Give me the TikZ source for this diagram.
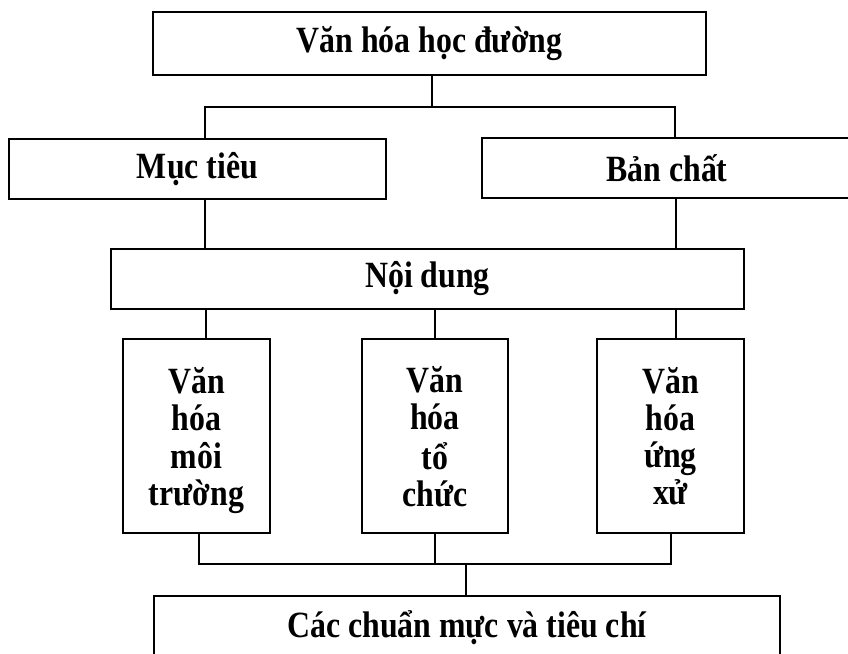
\documentclass[tikz,border=0pt]{standalone}
\usepackage{fontspec}
\setmainfont{Liberation Serif}
\newfontfamily\tnrb[FakeStretch=0.86]{Liberation Serif}
\begin{document}
\begin{tikzpicture}[x=1pt,y=-1pt,
  box/.style={draw=black,line width=1.6pt,rectangle,inner sep=0pt,font=\tnrb\fontsize{37}{37}\selectfont\bfseries,align=center},
  txt/.style={inner sep=0pt,font=\tnrb\fontsize{37}{37}\selectfont\bfseries,align=center},
  conn/.style={draw=black,line width=1.6pt}]
\useasboundingbox (0,0) rectangle (848,653);
\clip (0,0) rectangle (848,653);
\fill[white] (0,0) rectangle (848,653);
\node[box,minimum width=553pt,minimum height=63pt] (top) at (429.5,43.5) {Văn hóa học đường};
\node[box,minimum width=377pt,minimum height=60pt] (muc) at (197.5,169) {Mục tiêu};
\node[box,minimum width=370pt,minimum height=60pt] (ban) at (667,168) {Bản chất};
\node[box,minimum width=633pt,minimum height=60pt] (noi) at (427.5,279) {Nội dung};
\node[box,minimum width=147pt,minimum height=194pt] (b1) at (196.5,436) {};
\node[box,minimum width=146pt,minimum height=194pt] (b2) at (435,436) {};
\node[box,minimum width=147pt,minimum height=194pt] (b3) at (670.5,436) {};
\node[txt] (b1t) at (196.5,442) {Văn\strut\\hóa\strut\\môi\strut\\trường\strut};
\node[txt] (b2t) at (435,442) {Văn\strut\\hóa\strut\\tổ\strut\\chức\strut};
\node[txt] (b3t) at (670.5,442) {Văn\strut\\hóa\strut\\ứng\strut\\xử\strut};
\node[box,minimum width=626pt,minimum height=64pt] (bot) at (467,628) {Các chuẩn mực và tiêu chí};
\coordinate (j0) at (432,107);
\coordinate (h1) at (205,107);
\coordinate (h2) at (675,107);
\draw[conn] (top.south -| j0) -- (j0);
\draw[conn] (h1 |- muc.north) -- (h1) -- (h2) -- (h2 |- ban.north);
\coordinate (m1) at (205,0);
\coordinate (m2) at (676,0);
\draw[conn] (m1 |- muc.south) -- (m1 |- noi.north);
\draw[conn] (m2 |- ban.south) -- (m2 |- noi.north);
\coordinate (n1) at (206,0);
\coordinate (n2) at (435,0);
\coordinate (n3) at (676,0);
\draw[conn] (n1 |- noi.south) -- (n1 |- b1.north);
\draw[conn] (n2 |- noi.south) -- (n2 |- b2.north);
\draw[conn] (n3 |- noi.south) -- (n3 |- b3.north);
\coordinate (k1) at (199,564);
\coordinate (k2) at (435,564);
\coordinate (k3) at (671,564);
\coordinate (k0) at (466,564);
\draw[conn] (k1 |- b1.south) -- (k1) -- (k3) -- (k3 |- b3.south);
\draw[conn] (k2 |- b2.south) -- (k2);
\draw[conn] (k0) -- (k0 |- bot.north);
\end{tikzpicture}
\end{document}
